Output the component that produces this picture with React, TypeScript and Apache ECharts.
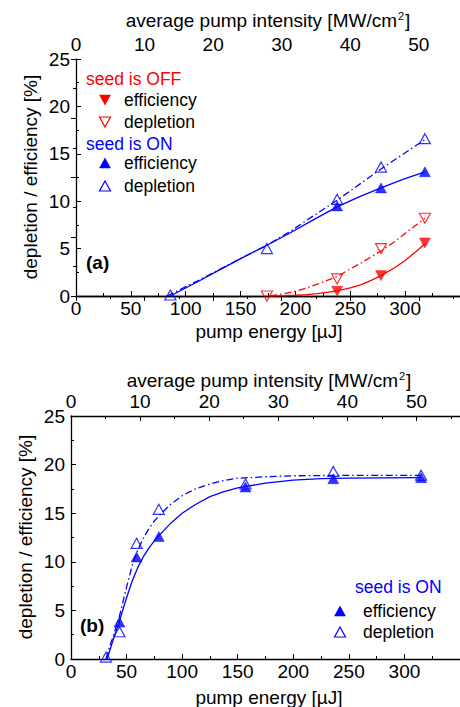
import React, { useEffect, useRef } from "react";
import * as echarts from "echarts";

const FONT = "'Liberation Sans', Arial, Helvetica, sans-serif";
const BLUE = "#0000ff";
const RED = "#ff0000";

// ---- panel (a) data: pump energy [µJ] vs depletion / efficiency [%]
const aOnEffEnergy = [238, 278, 318];
const aOnEffValue = [9.5, 11.4, 13.1];
const aOnDepEnergy = [86, 174, 238, 278, 318];
const aOnDepValue = [0.1, 5.0, 10.2, 13.6, 16.6];
const aOffEffEnergy = [238, 278, 318];
const aOffEffValue = [0.5, 2.15, 5.6];
const aOffDepEnergy = [174, 238, 278, 318];
const aOffDepValue = [0.0, 1.8, 5.0, 8.2];

// fit curves
const aOnEffFitEnergy = [86, 110, 130, 150, 174, 195, 215, 238, 258, 278, 298, 318];
const aOnEffFitValue = [0, 1.45, 2.7, 3.95, 5.35, 6.65, 7.95, 9.4, 10.45, 11.4, 12.3, 13.1];
const aOnDepFitEnergy = [83, 110, 130, 150, 174, 195, 215, 238, 258, 278, 298, 318];
const aOnDepFitValue = [0, 1.55, 2.75, 3.95, 5.35, 6.8, 8.35, 10.1, 11.75, 13.4, 14.95, 16.5];
const aOffEffFitEnergy = [177, 190, 200, 210, 220, 230, 238, 250, 260, 270, 278, 290, 300, 310, 318];
const aOffEffFitValue = [0, 0.03, 0.08, 0.15, 0.26, 0.4, 0.55, 0.85, 1.2, 1.7, 2.15, 2.95, 3.75, 4.7, 5.5];
const aOffDepFitEnergy = [177, 190, 200, 210, 220, 230, 238, 250, 260, 270, 278, 290, 300, 310, 318];
const aOffDepFitValue = [0, 0.25, 0.5, 0.85, 1.25, 1.7, 2.05, 2.85, 3.5, 4.2, 4.75, 5.7, 6.6, 7.5, 8.2];

// ---- panel (b) data
const bEffEnergy = [43.6, 59, 79, 157, 236, 315];
const bEffValue = [3.8, 10.5, 12.6, 17.7, 18.55, 18.65];
const bDepEnergy = [31.5, 43.6, 59, 79, 157, 236, 315];
const bDepValue = [0.2, 2.8, 11.9, 15.4, 18.0, 19.3, 18.9];

const bEffFitEnergy = [32.5, 35, 38, 41, 43.6, 47, 50, 55, 60, 65, 70, 75, 80, 90, 100, 112, 125, 137, 150, 175, 200, 225, 250, 315];
const bEffFitValue = [0, 0.9, 2.0, 3.0, 3.9, 5.2, 6.3, 8.0, 9.4, 10.5, 11.4, 12.15, 12.8, 14.0, 15.0, 15.9, 16.7, 17.2, 17.6, 18.1, 18.4, 18.55, 18.6, 18.65];
const bDepFitEnergy = [31.5, 34, 37, 40, 43.6, 47, 50, 55, 60, 65, 70, 75, 80, 90, 100, 112, 125, 137, 150, 175, 200, 250, 315];
const bDepFitValue = [0, 1.0, 2.0, 3.1, 4.4, 6.0, 7.4, 9.6, 11.2, 12.4, 13.4, 14.2, 14.85, 15.95, 16.8, 17.5, 18.0, 18.35, 18.6, 18.75, 18.85, 18.9, 18.9];

// axis ticks
const energyMax = 350;
const energyInterval = 50;
const intensityMaxA = 56;
const intensityMaxB = 56.3;
const intensityInterval = 10;
const yMax = 25;
const yInterval = 5;

const zip = (xs: number[], ys: number[]) => xs.map((x, i) => [x, ys[i]]);

const axisLineStyle = { lineStyle: { color: "#000", width: 1.3 } };
const tickStyle = { inside: true, length: 5, lineStyle: { color: "#000", width: 1 } };
const minorStyle = { show: true, splitNumber: 2, length: 3, lineStyle: { color: "#000", width: 1 } };
const labelBase = { color: "#000", fontSize: 19, fontFamily: FONT };

function xAxisDef(gridIndex: number, position: string, max: number, interval: number, margin: number) {
  return {
    type: "value",
    gridIndex,
    position,
    min: 0,
    max,
    interval,
    axisLine: { show: true, ...axisLineStyle },
    axisTick: tickStyle,
    minorTick: minorStyle,
    axisLabel: { ...labelBase, margin, showMaxLabel: false },
    splitLine: { show: false },
    minorSplitLine: { show: false },
  };
}

function lineSeries(xi: number, yi: number, xs: number[], ys: number[], color: string, dashed: boolean) {
  return {
    type: "line",
    xAxisIndex: xi,
    yAxisIndex: yi,
    data: zip(xs, ys),
    smooth: false,
    symbol: "none",
    lineStyle: { color, width: 1.3, type: dashed ? [7, 3, 1.5, 3] : "solid" },
    z: 2,
  };
}

function markerSeries(xi: number, yi: number, xs: number[], ys: number[], color: string, filled: boolean, down: boolean) {
  return {
    type: "scatter",
    xAxisIndex: xi,
    yAxisIndex: yi,
    data: zip(xs, ys),
    symbol: "triangle",
    symbolSize: [11, 10],
    symbolRotate: down ? 180 : 0,
    itemStyle: filled
      ? { color, borderColor: color, borderWidth: 0.5 }
      : { color: "rgba(255,255,255,0)", borderColor: color, borderWidth: 1.2 },
    z: 3,
  };
}

function tri(cx: number, cy: number, color: string, filled: boolean, down: boolean) {
  const pts = down
    ? [[cx - 5.5, cy - 5], [cx + 5.5, cy - 5], [cx, cy + 5]]
    : [[cx, cy - 5], [cx + 5.5, cy + 5], [cx - 5.5, cy + 5]];
  return {
    type: "polygon",
    shape: { points: pts },
    style: filled ? { fill: color, stroke: color, lineWidth: 0.5 } : { fill: "none", stroke: color, lineWidth: 1.2 },
  };
}

function txt(x: number, y: number, text: string, color = "#000", extra: any = {}) {
  return {
    type: "text",
    x,
    y,
    style: { text, fill: color, font: `17.5px ${FONT}`, textAlign: "left", textVerticalAlign: "middle", ...extra },
  };
}

function topTitle(x: number, y: number) {
  return {
    type: "text",
    x,
    y,
    style: {
      text: "{a|average pump intensity [MW/cm}{s|2}{a|]}",
      textAlign: "center",
      textVerticalAlign: "middle",
      rich: {
        a: { fontSize: 19, fontFamily: FONT, fill: "#000", color: "#000" },
        s: { fontSize: 11, fontFamily: FONT, fill: "#000", color: "#000", verticalAlign: "top", padding: [0, 1, 8, 1] },
      },
    },
  };
}

function yTitle(x: number, y: number) {
  return {
    type: "text",
    x,
    y,
    rotation: Math.PI / 2,
    style: { text: "depletion / efficiency [%]", fill: "#000", font: `19px ${FONT}`, textAlign: "center", textVerticalAlign: "middle" },
  };
}

function xTitle(x: number, y: number) {
  return {
    type: "text",
    x,
    y,
    style: { text: "pump energy [µJ]", fill: "#000", font: `19px ${FONT}`, textAlign: "center", textVerticalAlign: "middle" },
  };
}

export default function App() {
  const ref = useRef<HTMLDivElement>(null);

  useEffect(() => {
    if (!ref.current) return;
    const chart = echarts.init(ref.current, null, { renderer: "svg" });
    const option: any = {
      animation: false,
      backgroundColor: "#fff",
      grid: [
        { left: 76, right: 0, top: 59, bottom: 411, containLabel: false },
        { left: 71, right: -10, top: 416, bottom: 48, containLabel: false },
      ],
      xAxis: [
        xAxisDef(0, "bottom", energyMax, energyInterval, 3),
        xAxisDef(0, "top", intensityMaxA, intensityInterval, 5),
        xAxisDef(1, "bottom", energyMax, energyInterval, 3),
        xAxisDef(1, "top", intensityMaxB, intensityInterval, 5),
      ],
      yAxis: [
        {
          type: "value",
          gridIndex: 0,
          position: "left",
          min: 0,
          max: yMax,
          interval: yInterval,
          axisLine: { show: true, ...axisLineStyle },
          axisTick: tickStyle,
          minorTick: minorStyle,
          axisLabel: { ...labelBase, margin: 6 },
          splitLine: { show: false },
        },
        {
          type: "value",
          gridIndex: 0,
          position: "right",
          min: 0,
          max: 4,
          interval: 1,
          axisLine: { show: false },
          axisTick: { show: true, ...tickStyle },
          minorTick: minorStyle,
          axisLabel: { show: false },
          splitLine: { show: false },
        },
        {
          type: "value",
          gridIndex: 1,
          position: "left",
          min: 0,
          max: yMax,
          interval: yInterval,
          axisLine: { show: true, ...axisLineStyle },
          axisTick: tickStyle,
          minorTick: minorStyle,
          axisLabel: { ...labelBase, margin: 6 },
          splitLine: { show: false },
        },
      ],
      series: [
        lineSeries(0, 0, aOnEffFitEnergy, aOnEffFitValue, BLUE, false),
        lineSeries(0, 0, aOnDepFitEnergy, aOnDepFitValue, BLUE, true),
        lineSeries(0, 0, aOffEffFitEnergy, aOffEffFitValue, RED, false),
        lineSeries(0, 0, aOffDepFitEnergy, aOffDepFitValue, RED, true),
        markerSeries(0, 0, aOnEffEnergy, aOnEffValue, BLUE, true, false),
        markerSeries(0, 0, aOnDepEnergy, aOnDepValue, BLUE, false, false),
        markerSeries(0, 0, aOffEffEnergy, aOffEffValue, RED, true, true),
        markerSeries(0, 0, aOffDepEnergy, aOffDepValue, RED, false, true),
        lineSeries(2, 2, bEffFitEnergy, bEffFitValue, BLUE, false),
        lineSeries(2, 2, bDepFitEnergy, bDepFitValue, BLUE, true),
        markerSeries(2, 2, bEffEnergy, bEffValue, BLUE, true, false),
        markerSeries(2, 2, bDepEnergy, bDepValue, BLUE, false, false),
      ],
      graphic: [
        topTitle(268, 20),
        yTitle(30, 177),
        xTitle(269, 331),
        txt(86, 79, "seed is OFF", RED),
        tri(105, 100, RED, true, true),
        txt(124, 100, "efficiency"),
        tri(105, 122, RED, false, true),
        txt(124, 122, "depletion"),
        txt(86, 144, "seed is ON", BLUE),
        tri(105, 163, BLUE, true, false),
        txt(124, 163, "efficiency"),
        tri(105, 186, BLUE, false, false),
        txt(124, 186, "depletion"),
        txt(86, 262, "(a)", "#000", { font: `bold 19px ${FONT}` }),
        topTitle(269, 380),
        yTitle(25, 537),
        xTitle(269, 697),
        txt(355, 587, "seed is ON", BLUE),
        tri(340, 611, BLUE, true, false),
        txt(363, 611, "efficiency"),
        tri(340, 632, BLUE, false, false),
        txt(363, 632, "depletion"),
        txt(80, 625, "(b)", "#000", { font: `bold 19px ${FONT}` }),
      ],
    };
    chart.setOption(option);
    return () => chart.dispose();
  }, []);

  return (
    <div
      ref={ref}
      style={{ position: "absolute", left: 0, top: 0, width: 460, height: 707, background: "#fff" }}
    />
  );
}
